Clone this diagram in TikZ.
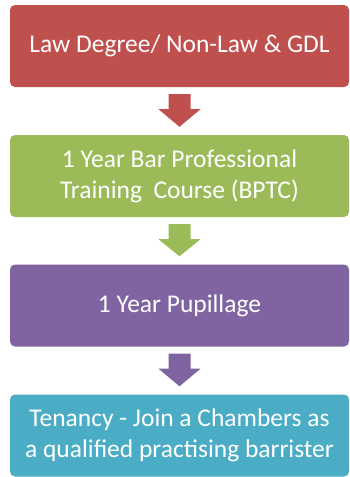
\documentclass[tikz,border=0pt]{standalone}
\usepackage{fontspec}
\setmainfont{Carlito}
\usetikzlibrary{calc}
\definecolor{cred}{HTML}{C0504D}
\definecolor{cgreen}{HTML}{9BBB59}
\definecolor{cpurple}{HTML}{8064A2}
\definecolor{cteal}{HTML}{4BACC6}
\tikzset{
  stepbox/.style={fill=#1, draw=none, rounded corners=5pt, minimum width=339pt, minimum height=82pt,
    text=white, align=center, inner sep=0pt, font=\fontsize{25.5}{31}\selectfont},
}
\newcommand{\blockarrow}[3]{%
  \fill[#3] ($(#1.south)+(-11pt,-7pt)$) -- ($(#1.south)+(11pt,-7pt)$) -- ($(#1.south)+(11pt,-22pt)$)
   -- ($(#1.south)+(21pt,-22pt)$) -- ($(#2.north)+(0,8pt)$) -- ($(#1.south)+(-21pt,-22pt)$)
   -- ($(#1.south)+(-11pt,-22pt)$) -- cycle;}
\begin{document}
\begin{tikzpicture}
\useasboundingbox (0,0) rectangle (350pt,-477pt);
\node[stepbox=cred] (b1) at (179.5pt,-46pt) {Law Degree/ Non-Law \& GDL};
\node[stepbox=cgreen] (b2) at (179.5pt,-176pt) {1 Year Bar Professional\\Training\ \ Course (BPTC)};
\node[stepbox=cpurple] (b3) at (179.5pt,-305.5pt) {1 Year Pupillage};
\node[stepbox=cteal] (b4) at (179.5pt,-435.5pt) {Tenancy - Join a Chambers as\\a qualified practising barrister};
\blockarrow{b1}{b2}{cred}
\blockarrow{b2}{b3}{cgreen}
\blockarrow{b3}{b4}{cpurple}
\end{tikzpicture}
\end{document}
